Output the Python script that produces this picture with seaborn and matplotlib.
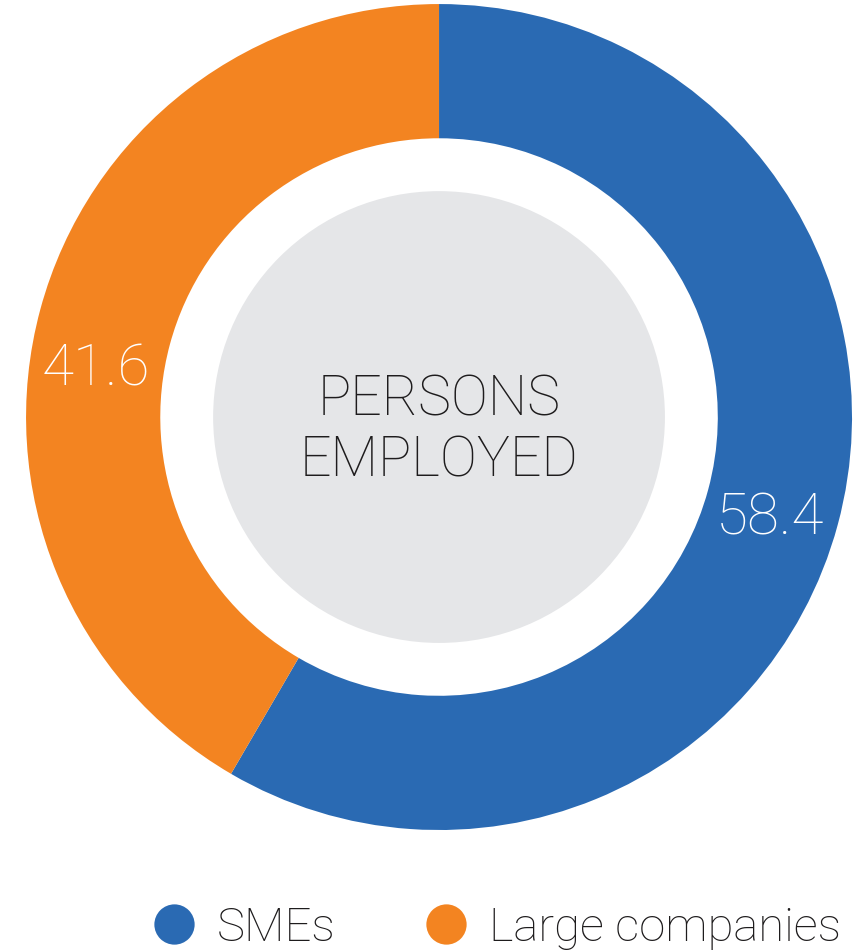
import matplotlib
matplotlib.use("Agg")
import matplotlib.pyplot as plt
from matplotlib.lines import Line2D
import numpy as np
import seaborn as sns

sns.set_theme(style="white")
plt.rcParams['font.family'] = ['Roboto', 'DejaVu Sans']

# data
categories = ["SMEs", "Large companies"]
values = [58.4, 41.6]
colors = ["#2a6ab3", "#f38421"]
center_label = "PERSONS\nEMPLOYED"

fig = plt.figure(figsize=(8.59, 9.53), dpi=100)
ax = fig.add_axes([0.0303, 0.128, 0.9616, 0.8667])

wedges, _ = ax.pie(values, colors=colors, startangle=90, counterclock=False,
                   radius=1.0, wedgeprops=dict(width=0.325, linewidth=0))

# grey inner disc
ax.add_patch(plt.Circle((0, 0), 0.547, color="#e5e6e8", linewidth=0))
ax.text(0, -0.03, center_label, ha="center", va="center", fontsize=40,
        fontweight="light", color="#1e1c1d", linespacing=1.2)

# value labels on the ring
label_angles = [-17, 172]
for v, ang in zip(values, label_angles):
    r = 0.838
    x = r * np.cos(np.deg2rad(ang))
    y = r * np.sin(np.deg2rad(ang))
    ax.text(x, y, f"{v:.1f}", ha="center", va="center", fontsize=42,
            fontweight="light", color="white")

ax.set_xlim(-1, 1)
ax.set_ylim(-1, 1)
ax.set_aspect("equal")
ax.axis("off")

handles = [Line2D([0], [0], marker="o", linestyle="", markersize=29,
                  markerfacecolor=c, markeredgewidth=0) for c in colors]
fig.legend(handles, categories, loc="center", bbox_to_anchor=(0.577, 0.026),
           ncol=2, frameon=False, handletextpad=0.4,
           columnspacing=1.85, handlelength=1.0,
           prop=dict(weight="light", size=34), labelcolor="#1e1c1d")

fig.savefig("out.png", dpi=100)
